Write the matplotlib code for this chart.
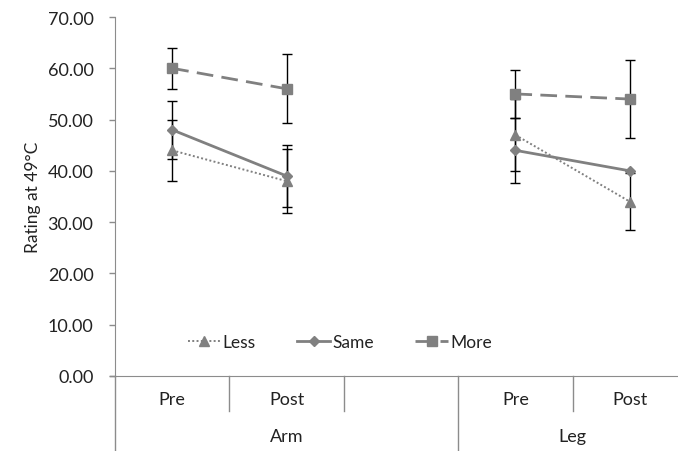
import matplotlib
matplotlib.use("Agg")
import matplotlib.pyplot as plt
import matplotlib.transforms as mtransforms

# ---- data ----
# five category slots: Arm Pre, Arm Post, (empty), Leg Pre, Leg Post
cat_labels = ["Pre", "Post", "", "Pre", "Post"]
group_labels = ["Arm", "Leg"]

less_vals = [44, 38, None, 47, 34]
same_vals = [48, 39, None, 44, 40]
more_vals = [60, 56, None, 55, 54]

less_err = [6.0, 6.2, None, 7.0, 5.5]
same_err = [5.6, 6.0, None, 6.4, 0]
more_err = [4.0, 6.7, None, 4.7, 7.6]

plt.rcParams['font.family'] = ['Lato', 'DejaVu Sans']

fig = plt.figure(figsize=(6.78, 4.52), dpi=100)
ax = fig.add_axes([115/678, 1 - 377/452, 572/678, 359/452])

gray = '#808080'
axis_gray = '#8c8c8c'
txt = '#222222'

def split(vals, errs):
    xs = [i for i, v in enumerate(vals) if v is not None and errs[i]]
    ys = [vals[i] for i in xs]
    es = [errs[i] for i in xs]
    return xs, ys, es

# draw each series in two pieces (arm, leg) so the blank slot breaks the line
series = [
    ("Less", less_vals, less_err, '^', (0, (1, 1.2)), 1.4),
    ("Same", same_vals, same_err, 'D', '-', 2.0),
    ("More", more_vals, more_err, 's', (0, (6, 3)), 2.0),
]
handles = []
for name, vals, errs, mk, ls, lw in series:
    xs, ys, es = split(vals, errs)
    ax.errorbar(xs, ys, yerr=es, fmt='none', ecolor='black', elinewidth=1.0,
                capsize=3.5, capthick=1.0, zorder=2)
    for part in ([0, 1], [3, 4]):
        px = [x for x in part if vals[x] is not None]
        py = [vals[x] for x in px]
        h, = ax.plot(px, py, color=gray, ls=ls, lw=lw, marker=mk,
                     markersize=7 if mk != 'D' else 5.5, markerfacecolor=gray,
                     markeredgecolor=gray, zorder=3)
    h.set_label(name)
    handles.append(h)

ax.set_xlim(-0.5, 4.5)
ax.set_ylim(0, 70)
ax.set_yticks(range(0, 71, 10))
ax.set_yticklabels(["%.2f" % v for v in range(0, 71, 10)])
ax.tick_params(axis='y', length=4.5, width=1, color=axis_gray, pad=11,
               labelsize=13, labelcolor=txt)
ax.set_xticks([])
ax.set_ylabel("Rating at 49°C", fontsize=12.5, labelpad=5, color=txt)

for s in ['top', 'right']:
    ax.spines[s].set_visible(False)
ax.spines['left'].set_color(axis_gray)
ax.spines['bottom'].set_color(axis_gray)
ax.spines['left'].set_bounds(0, 70)

# category axis: separators and labels below the plot
trans = mtransforms.blended_transform_factory(ax.transData, ax.transAxes)
short_y = -(412 - 377) / 359
long_y = -(452 - 377) / 359
for xsep in [-0.5, 0.5, 1.5, 2.5, 3.5]:
    yb = long_y if xsep in (-0.5, 2.5) else short_y
    ax.plot([xsep, xsep], [0, yb], transform=trans, color=axis_gray, lw=1,
            clip_on=False)
ax.plot([-0.5 - 0.04, -0.5], [0, 0], transform=trans, color=axis_gray, lw=1,
        clip_on=False)
for i, lab in enumerate(cat_labels):
    ax.text(i, -(400 - 377) / 359, lab, transform=trans, ha='center',
            va='center', fontsize=13, color=txt)
ax.text(1.0, -(437 - 377) / 359, group_labels[0], transform=trans,
        ha='center', va='center', fontsize=13, color=txt)
ax.text(3.5, -(437 - 377) / 359, group_labels[1], transform=trans,
        ha='center', va='center', fontsize=13, color=txt)

leg = ax.legend(handles=handles, loc='center left', ncol=3, frameon=False,
                bbox_to_anchor=(0.1, (377 - 343) / 359), fontsize=12.5,
                handlelength=1.9, handletextpad=0.1, columnspacing=2.4,
                labelcolor=txt)

fig.savefig("out.png", dpi=100)
